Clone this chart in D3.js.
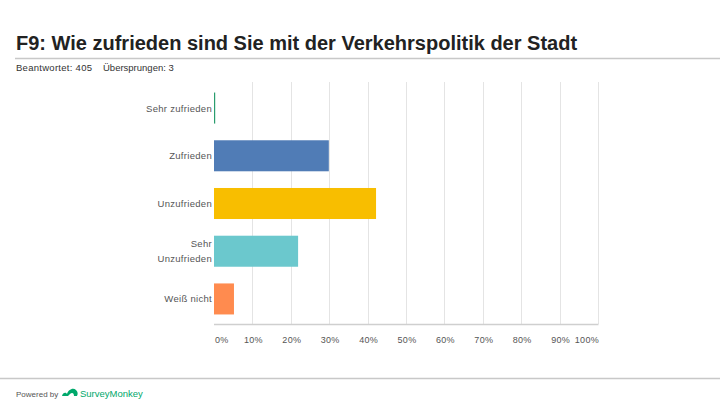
<!DOCTYPE html>
<html><head><meta charset="utf-8">
<script src="https://cdn.jsdelivr.net/npm/d3@7"></script>
<style>body{margin:0;background:#fff;} svg{display:block;}</style>
</head><body>
<svg id="c" width="720" height="405"></svg>
<script>
const categories = ["Sehr zufrieden", "Zufrieden", "Unzufrieden", "Sehr Unzufrieden", "Weiß nicht"];
const labelLines = [["Sehr zufrieden"], ["Zufrieden"], ["Unzufrieden"], ["Sehr", "Unzufrieden"], ["Weiß nicht"]];
const values = [0.25, 29.9, 42.2, 21.9, 5.2];
const colors = ["#2a9d6e", "#507cb6", "#f8be00", "#6bc8cd", "#ff8b4f"];
const ticks = [0, 10, 20, 30, 40, 50, 60, 70, 80, 90, 100];

const svg = d3.select("#c");
const font = "'Liberation Sans', Arial, sans-serif";

svg.append("text").attr("x", 16).attr("y", 50).attr("font-family", font)
  .attr("font-size", 20).attr("font-weight", "bold").attr("fill", "#222")
  .text("F9: Wie zufrieden sind Sie mit der Verkehrspolitik der Stadt");
svg.append("line").attr("x1", 15).attr("x2", 720).attr("y1", 58.5).attr("y2", 58.5)
  .attr("stroke", "#c8c8c8").attr("stroke-width", 1.5);
svg.append("text").attr("x", 16).attr("y", 71).attr("font-family", font)
  .attr("font-size", 9.5).attr("fill", "#333").attr("textLength", 76).text("Beantwortet: 405");
svg.append("text").attr("x", 103).attr("y", 71).attr("font-family", font)
  .attr("font-size", 9.5).attr("fill", "#333").text("Übersprungen: 3");

const x = d3.scaleLinear().domain([0, 100]).range([214, 598]);
const y = d3.scaleBand().domain(categories).range([83, 324]).paddingInner(0.35).paddingOuter(0.2);

// gridlines
svg.append("g").selectAll("line").data(ticks.slice(1)).join("line")
  .attr("x1", d => Math.round(x(d)) + 0.5).attr("x2", d => Math.round(x(d)) + 0.5)
  .attr("y1", 82).attr("y2", 324).attr("stroke", "#e4e4e4").attr("stroke-width", 1);
svg.append("line").attr("x1", 214).attr("x2", 598.5).attr("y1", 324.5).attr("y2", 324.5)
  .attr("stroke", "#cfcfcf").attr("stroke-width", 1.5);

// bars
svg.append("g").selectAll("rect").data(values).join("rect")
  .attr("x", x(0)).attr("y", (d, i) => y(categories[i]))
  .attr("width", d => Math.max(1.2, x(d) - x(0))).attr("height", y.bandwidth())
  .attr("fill", (d, i) => colors[i]);

// category labels
const lg = svg.append("g").attr("font-family", font).attr("font-size", 9.5).attr("fill", "#555");
labelLines.forEach((lines, i) => {
  const cy = y(categories[i]) + y.bandwidth() / 2;
  const t = lg.append("text").attr("text-anchor", "end").attr("letter-spacing", 0.3);
  lines.forEach((l, j) => {
    t.append("tspan").attr("x", 212)
      .attr("y", cy + 3.5 + (j - (lines.length - 1) / 2) * 15).text(l);
  });
});

// tick labels
svg.append("g").selectAll("text").data(ticks).join("text")
  .attr("x", d => d === 0 ? 215 : d === 100 ? 599 : x(d) + 1)
  .attr("y", 343)
  .attr("text-anchor", d => d === 0 ? "start" : d === 100 ? "end" : "middle")
  .attr("font-family", font).attr("font-size", 9).attr("fill", "#555").attr("letter-spacing", 0.3)
  .text(d => d + "%");

// footer
svg.append("line").attr("x1", 0).attr("x2", 720).attr("y1", 378.5).attr("y2", 378.5)
  .attr("stroke", "#c8c8c8").attr("stroke-width", 1.5);
svg.append("text").attr("x", 16).attr("y", 397).attr("font-family", font)
  .attr("font-size", 8).attr("fill", "#555").text("Powered by");
const logo = svg.append("g").attr("transform", "translate(62,389)");
logo.append("path").attr("d", "M0,7 C1,3 4,3 5,5 C6,1 11,-2 14,1 C16,3 16,5 15,7 L12,7 C12,4 10,3 8,5 L6,7 Z")
  .attr("fill", "#00a86b");
svg.append("text").attr("x", 80).attr("y", 397).attr("font-family", font)
  .attr("font-size", 9.5).attr("fill", "#00a86b").text("SurveyMonkey");
</script>
</body></html>
